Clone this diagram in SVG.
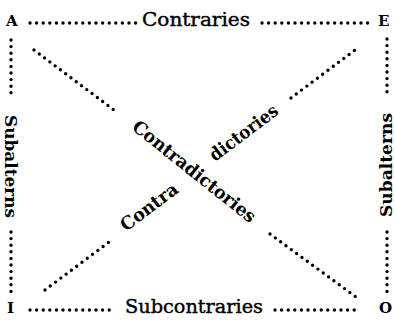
<svg xmlns="http://www.w3.org/2000/svg" width="395" height="320" viewBox="0 0 395 320">
<style>
.bg{fill:#fff}
.dots{fill:none;stroke:#000;stroke-width:3.4;stroke-linecap:round;stroke-dasharray:0 6.6}
.corner{font-family:"DejaVu Serif",serif;font-weight:bold;font-size:15px;fill:#000}
.edge{font-family:"DejaVu Serif",serif;font-size:19px;fill:#000;stroke:#000;stroke-width:0.4}
.sub{font-family:"DejaVu Serif",serif;font-weight:bold;font-size:17px;fill:#000}
.diag{font-family:"DejaVu Serif",serif;font-weight:bold;font-size:18px;fill:#000}
</style>
<rect class="bg" x="0" y="0" width="395" height="320"/>
<g id="connectors">
<path class="dots" d="M30,23 H136"/>
<path class="dots" d="M262,23 H368"/>
<path class="dots" d="M30,310 H111"/>
<path class="dots" d="M275,310 H355"/>
<path class="dots" d="M11,40 V97"/>
<path class="dots" d="M11,232 V293"/>
<path class="dots" d="M387,39 V93"/>
<path class="dots" d="M387,232 V293"/>
<path class="dots" d="M34,50 L118,113"/>
<path class="dots" d="M270,234 L356,297"/>
<path class="dots" d="M45,290 L113,239"/>
<path class="dots" d="M291,98 L359,47"/>
</g>
<g id="node-A"><text class="corner" x="6" y="26">A</text></g>
<g id="node-E"><text class="corner" x="378" y="26">E</text></g>
<g id="node-I"><text class="corner" x="7" y="313">I</text></g>
<g id="node-O"><text class="corner" x="379" y="313">O</text></g>
<g id="label-contraries"><text class="edge" x="142" y="26" textLength="108" lengthAdjust="spacingAndGlyphs">Contraries</text></g>
<g id="label-subcontraries"><text class="edge" x="125" y="313" textLength="138" lengthAdjust="spacingAndGlyphs">Subcontraries</text></g>
<g id="label-subalterns-left"><text class="sub" transform="translate(5,115) rotate(90)" textLength="103" lengthAdjust="spacingAndGlyphs">Subalterns</text></g>
<g id="label-subalterns-right"><text class="sub" transform="translate(392,217) rotate(-90)" textLength="104" lengthAdjust="spacingAndGlyphs">Subalterns</text></g>
<g id="label-contradictories-1"><text class="diag" transform="translate(131,129) rotate(38.5)" textLength="152" lengthAdjust="spacingAndGlyphs">Contradictories</text></g>
<g id="label-contradictories-2"><text class="diag" transform="translate(126,232) rotate(-37)" textLength="67" lengthAdjust="spacingAndGlyphs">Contra</text><text class="diag" transform="translate(215,162) rotate(-37)" textLength="81" lengthAdjust="spacingAndGlyphs">dictories</text></g>
</svg>
